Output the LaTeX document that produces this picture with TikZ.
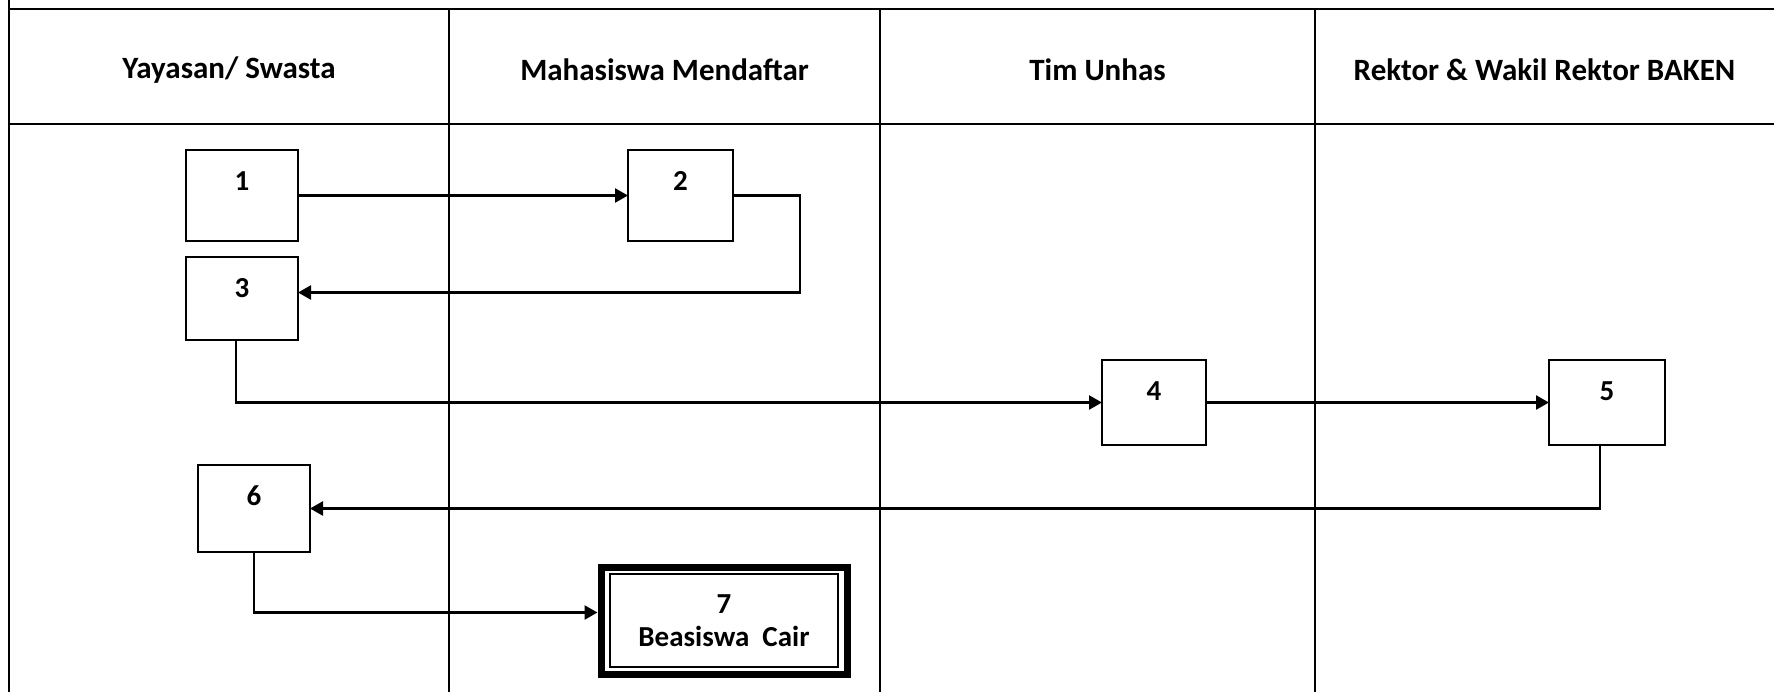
\documentclass[tikz,border=0pt]{standalone}
\usepackage{fontspec}
\setmainfont{Carlito}
\usepackage{xcolor,tikz}
\usetikzlibrary{positioning,fit,arrows.meta}

\begin{document}
\begin{tikzpicture}[x=0.5pt,y=-0.5pt,
  grid/.style={line width=1.2pt},
  lanehead/.style={font=\fontsize{15.5}{18}\selectfont\bfseries,inner sep=0pt},
  stepbox/.style={draw,line width=1pt,inner sep=0pt,outer sep=0pt,text height=20pt,
    font=\fontsize{14.5}{17}\selectfont\bfseries},
  endbox/.style={draw,line width=1pt,inner sep=0pt,outer sep=0pt,align=center,
    font=\fontsize{14.5}{16.5}\selectfont\bfseries},
  flow/.style={line width=1.2pt,-{Triangle[length=6.5pt,width=7pt]}}]
\definecolor{fillColor}{RGB}{255,255,255}
\path[use as bounding box,fill=fillColor] (0,0) rectangle (1774,692);

% table
\draw[grid] (9,0) -- (9,692);
\draw[grid] (9,9) -- (1774,9);
\draw[grid] (9,124) -- (1774,124);
\foreach \x in {449,880,1315}
  \draw[grid] (\x,9) -- (\x,692);

\node[lanehead] (h1) at (229,70) {Yayasan/ Swasta};
\node[lanehead] (h2) at (664.5,70) {Mahasiswa Mendaftar};
\node[lanehead] (h3) at (1097.5,70) {Tim Unhas};
\node[lanehead] (h4) at (1544.5,70) {Rektor \& Wakil Rektor BAKEN};

% steps
\node[stepbox,minimum width=56pt,text depth=25.5pt] (b1) at (242,195.5) {1};
\node[stepbox,minimum width=52.5pt,text depth=25.5pt] (b2) at (680.5,195.5) {2};
\node[stepbox,minimum width=56pt,text depth=21.5pt] (b3) at (242,298.5) {3};
\node[stepbox,minimum width=52pt,text depth=22.5pt] (b4) at (1154,402.5) {4};
\node[stepbox,minimum width=58pt,text depth=22.5pt] (b5) at (1607,402.5) {5};
\node[stepbox,minimum width=56pt,text depth=23.5pt] (b6) at (254,508.5) {6};
\node[endbox,minimum width=114pt,minimum height=46.5pt] (b7) at (724,620.5) {7\\Beasiswa~\ Cair};
\node[fit=(b7),draw,line width=3.5pt,inner xsep=4.5pt,inner ysep=3.5pt] (b7f) {};

% arrows
\draw[flow] (b1.east) -- (b2.west);
\draw[flow] (b2.east) -- ++(67,0) |- ([yshift=3pt]b3.east);
\draw[flow] ([xshift=-3pt]b3.south) |- (b4.west);
\draw[flow] (b4.east) -- (b5.west);
\draw[flow] ([xshift=-3.5pt]b5.south) |- (b6.east);
\draw[flow] (b6.south) |- ([yshift=4pt]b7f.west);
\end{tikzpicture}
\end{document}
